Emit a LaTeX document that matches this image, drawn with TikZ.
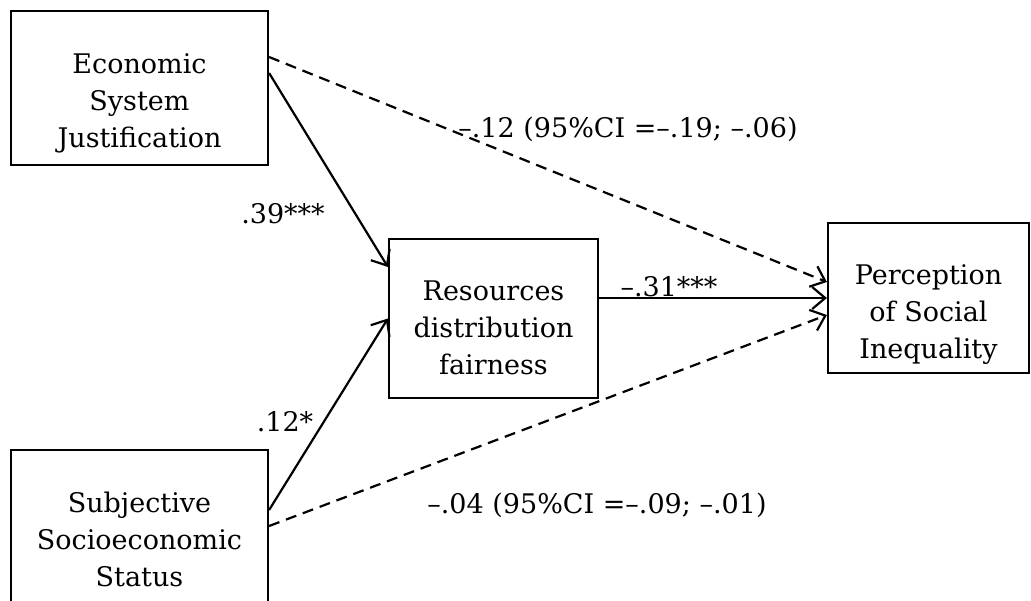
\documentclass[tikz,border=0pt]{standalone}
\usepackage{fontspec}
\setmainfont{DejaVu Serif}
\usetikzlibrary{arrows.meta}
\begin{document}
\begin{tikzpicture}[x=1pt,y=-1pt,
  box/.style={draw,line width=2.2pt,inner sep=0pt},
  lbl/.style={font=\fontsize{27}{37}\selectfont,align=center,inner sep=0pt},
  conn/.style={line width=2.2pt,-{Straight Barb[length=13pt,width=22pt,line width=2.2pt]}},
  dsh/.style={conn,dash pattern=on 11pt off 7pt}]
\useasboundingbox[fill=white] (0,0) rectangle (1031,600);
% boxes
\node[box,minimum width=257pt,minimum height=154pt] (esj) at (139.5,88) {};
\node[box,minimum width=257pt,minimum height=152pt] (sss) at (139.5,526) {};
\node[box,minimum width=209pt,minimum height=159pt] (rdf) at (493.5,318.5) {};
\node[box,minimum width=201pt,minimum height=150pt] (psi) at (928.5,298) {};
% box texts
\node[lbl] (esjT) at (139.5,103) {Economic\\System\\Justification};
\node[lbl] (sssT) at (139.5,539) {Subjective\\Socioeconomic\\Status};
\node[lbl] (rdfT) at (493.5,328) {Resources\\distribution\\fairness};
\node[lbl] (psiT) at (928.5,315) {Perception\\of Social\\Inequality};
% connectors
\draw[dsh] ([yshift=31pt]esj.east) -- ([yshift=16pt]psi.west);
\draw[conn] ([yshift=15pt]esj.east) -- ([yshift=51.5pt]rdf.west);
\draw[conn] ([yshift=16pt]sss.east) -- (rdf.west);
\draw[dsh] (sss.east) -- ([yshift=-17pt]psi.west);
\draw[conn] (rdf.east |- psi.west) -- (psi.west);
% labels
\node[lbl] (l1) at (628,129) {–.12 (95\%CI =–.19; –.06)};
\node[lbl] (l2) at (283,214) {.39***};
\node[lbl,anchor=base] (l3) at (669,296) {–.31***};
\node[lbl] (l4) at (285,422) {.12*};
\node[lbl] (l5) at (597,505) {–.04 (95\%CI =–.09; –.01)};
\end{tikzpicture}
\end{document}
